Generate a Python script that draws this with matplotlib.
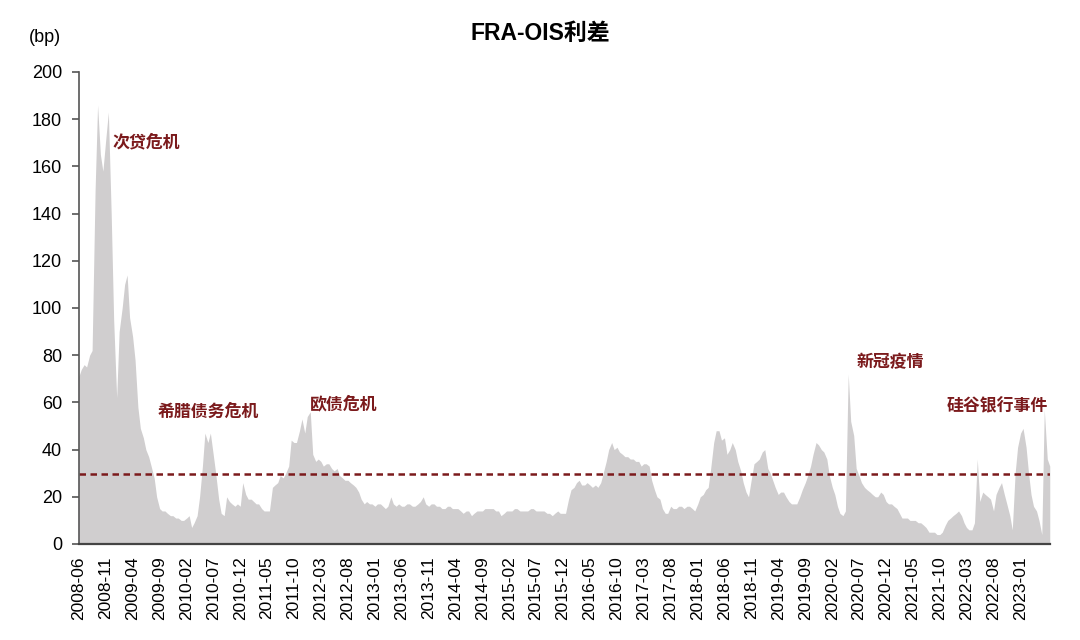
import pandas as pd
import matplotlib
matplotlib.use("Agg")
import matplotlib.pyplot as plt
import matplotlib.dates as mdates

# FRA-OIS spread (bp) at half-month steps from 2008-06
spread_bp = [
    71, 74, 76, 75, 80, 82, 150, 186, 165, 158, 172, 183,
    140, 95, 62, 90, 100, 110, 114, 96, 88, 78, 58, 49,
    45, 40, 37, 33, 28, 20, 15, 14, 14, 13, 12, 12,
    11, 11, 10, 10, 11, 12, 7, 9, 12, 20, 33, 47,
    43, 47, 38, 30, 19, 13, 12, 20, 18, 17, 16, 17,
    16, 26, 21, 19, 19, 18, 17, 17, 15, 14, 14, 14,
    24, 25, 26, 29, 28, 30, 33, 44, 43, 43, 48, 53,
    47, 54, 56, 38, 35, 36, 35, 33, 34, 34, 32, 31,
    32, 29, 28, 27, 27, 26, 25, 24, 22, 19, 17, 18,
    17, 17, 16, 17, 17, 16, 15, 16, 20, 17, 16, 17,
    16, 16, 17, 17, 16, 16, 17, 18, 20, 17, 16, 17,
    17, 16, 16, 15, 15, 16, 16, 15, 15, 15, 14, 13,
    14, 14, 12, 13, 14, 14, 14, 15, 15, 15, 15, 14,
    14, 12, 13, 14, 14, 14, 15, 15, 14, 14, 14, 14,
    15, 15, 14, 14, 14, 14, 13, 13, 12, 13, 14, 13,
    13, 13, 19, 23, 24, 26, 27, 25, 25, 26, 25, 24,
    25, 24, 26, 30, 35, 40, 43, 40, 41, 39, 38, 37,
    37, 36, 36, 35, 35, 33, 34, 34, 33, 27, 23, 20,
    19, 15, 13, 13, 16, 15, 15, 16, 16, 15, 16, 16,
    15, 14, 17, 20, 21, 23, 24, 32, 43, 48, 48, 44,
    45, 38, 40, 43, 40, 35, 31, 26, 22, 20, 28, 34,
    35, 36, 39, 40, 32, 30, 27, 24, 21, 22, 22, 20,
    18, 17, 17, 17, 20, 23, 26, 29, 33, 38, 43, 42,
    40, 39, 36, 29, 24, 21, 16, 13, 12, 14, 72, 52,
    46, 32, 29, 26, 24, 23, 22, 21, 20, 20, 22, 21,
    18, 17, 17, 16, 15, 13, 11, 11, 11, 10, 10, 10,
    9, 9, 8, 7, 5, 5, 5, 4, 4, 5, 8, 10,
    11, 12, 13, 14, 12, 9, 7, 6, 6, 9, 36, 18,
    22, 21, 20, 19, 14, 21, 24, 26, 21, 17, 12, 6,
    30, 41, 47, 49, 41, 30, 21, 16, 14, 10, 4, 57,
    36, 33,
]
dates = pd.date_range("2008-06-01", periods=len(spread_bp), freq="SMS")

avg_level = 29.5

events = ["次贷危机", "希腊债务危机", "欧债危机", "新冠疫情", "硅谷银行事件"]
event_dates = ["2008-12-10", "2009-08-23", "2011-12-28", "2020-06-20", "2021-11-07"]
event_y = [170, 56, 59.3, 77, 58.5]

tick_dates = pd.date_range("2008-06-01", "2023-01-01", freq="5MS")

dark_red = "#7B1A1C"
latin_narrow = ["Liberation Sans Narrow", "Liberation Sans", "Noto Sans CJK SC"]
latin = ["Liberation Sans", "Noto Sans CJK SC"]
cjk = ["Noto Sans CJK SC", "DejaVu Sans"]

fig = plt.figure(figsize=(10.8, 6.4), dpi=100)
ax = fig.add_axes([0.073, 0.15, 0.899, 0.7375])

ax.fill_between(dates, spread_bp, 0, color="#D0CECF", linewidth=0)
ax.axhline(avg_level, color=dark_red, linewidth=1.8, linestyle=(0, (2.6, 1.8)))

for name, d, y in zip(events, event_dates, event_y):
    ax.text(pd.Timestamp(d), y, name, color=dark_red, fontsize=12.2,
            fontweight="bold", family=cjk, ha="left", va="center")

ax.set_xlim(dates[0], dates[-1])
ax.set_ylim(0, 200)
ax.set_yticks(range(0, 201, 20))
ax.set_xticks(tick_dates)
ax.xaxis.set_major_formatter(mdates.DateFormatter("%Y-%m"))

for lab in ax.get_yticklabels():
    lab.set_fontfamily(latin_narrow)
    lab.set_fontsize(13)
for lab in ax.get_xticklabels():
    lab.set_fontfamily(latin)
    lab.set_fontsize(12.5)
    lab.set_rotation(90)

ax.tick_params(axis="y", direction="out", length=5, width=1.2, color="#555555", pad=7)
ax.tick_params(axis="x", length=0, pad=9)

ax.spines["top"].set_visible(False)
ax.spines["right"].set_visible(False)
ax.spines["left"].set_color("#555555")
ax.spines["left"].set_linewidth(1.2)
ax.spines["bottom"].set_color("#444444")
ax.spines["bottom"].set_linewidth(1.6)
ax.set_facecolor("white")

fig.text(0.5, 0.948, "FRA-OIS利差", fontsize=16.5, fontweight="bold",
         family=latin_narrow, ha="center", va="center")
fig.text(0.027, 0.942, "(bp)", fontsize=13, family=latin_narrow,
         ha="left", va="center")

fig.savefig("out.png", dpi=100, facecolor="white")
